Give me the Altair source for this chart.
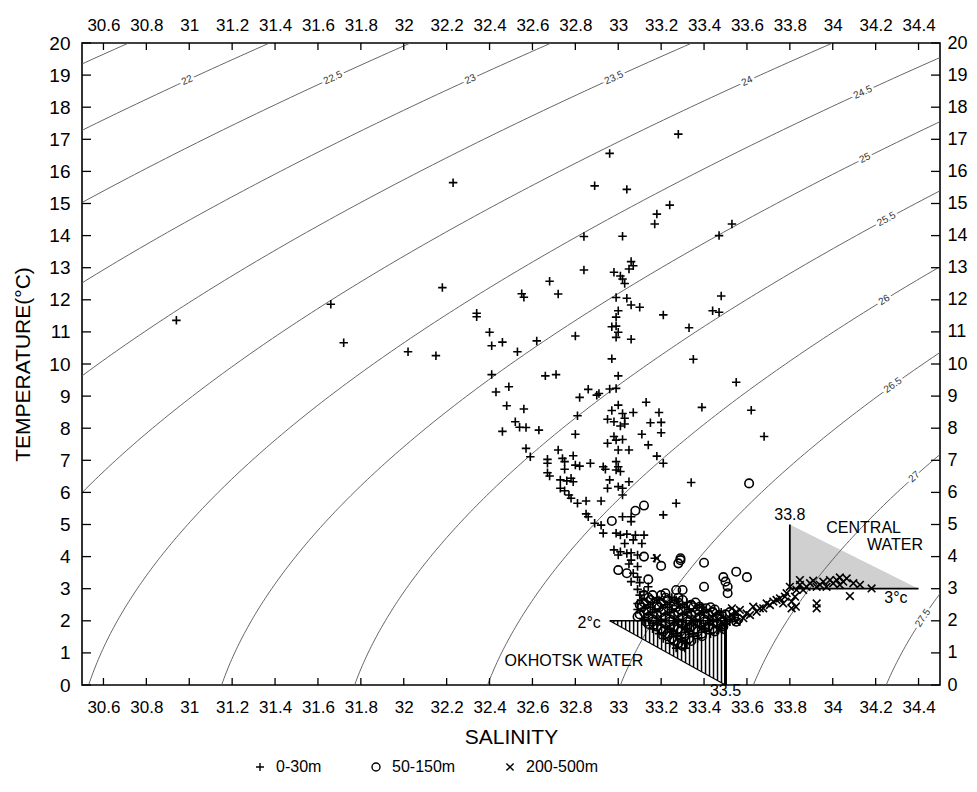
import altair as alt
import numpy as np
import pandas as pd

FONT = "Liberation Sans, Arial, DejaVu Sans, sans-serif"

# ---------------- data ----------------
S_ticks = [30.6, 30.8, 31.0, 31.2, 31.4, 31.6, 31.8, 32.0, 32.2, 32.4,
           32.6, 32.8, 33.0, 33.2, 33.4, 33.6, 33.8, 34.0, 34.2, 34.4]
T_ticks = list(range(0, 21))

depth_classes = ["0-30m", "50-150m", "200-500m"]

# 0-30 m  (+)
plus_pts = [
    (32.23, 15.65), (30.94, 11.36), (31.66, 11.86), (31.72, 10.66), (32.18, 12.38),
    (32.02, 10.38), (32.15, 10.26), (32.34, 11.58), (32.34, 11.47),
    (33.28, 17.16), (32.96, 16.56), (32.89, 15.55), (33.04, 15.44), (33.24, 14.95),
    (33.18, 14.67), (33.17, 14.36), (33.53, 14.36), (33.47, 14.00), (32.84, 13.97),
    (33.02, 13.98), (32.84, 12.93), (33.06, 13.19), (33.07, 13.06), (33.05, 12.96),
    (32.98, 12.86), (33.01, 12.74), (33.02, 12.65), (33.03, 12.51), (32.68, 12.58),
    (32.55, 12.19), (32.56, 12.08), (32.72, 12.18), (33.48, 12.12), (33.44, 11.66),
    (33.47, 11.61), (32.99, 12.07), (33.04, 12.05), (33.06, 11.84), (33.10, 11.77),
    (33.00, 11.66), (32.99, 11.46), (33.21, 11.53), (32.40, 10.99), (32.41, 10.57),
    (32.46, 10.68), (32.53, 10.38), (32.62, 10.72), (32.80, 10.87), (32.97, 11.16),
    (32.99, 11.18), (33.00, 10.99), (32.99, 10.83), (33.06, 10.77), (33.33, 11.13),
    (32.97, 10.16), (33.35, 10.15), (32.41, 9.67), (32.66, 9.63), (32.71, 9.67),
    (33.00, 9.63),
    (32.43, 9.13), (32.49, 9.29), (32.48, 8.70), (32.56, 8.60), (32.46, 7.90),
    (32.52, 8.20), (32.54, 8.03), (32.57, 8.02), (32.63, 7.94), (32.57, 7.37),
    (32.59, 7.11), (32.82, 8.96), (32.86, 9.21), (32.90, 9.03), (32.91, 9.08),
    (32.96, 9.22), (32.99, 9.24), (32.81, 8.39), (32.80, 7.81),
    (33.00, 8.72), (32.97, 8.55), (33.02, 8.46), (33.07, 8.49), (32.95, 8.28),
    (32.98, 8.20), (33.03, 8.31), (33.01, 8.07), (33.03, 8.13), (32.98, 7.74),
    (32.99, 7.63), (33.02, 7.65), (32.95, 7.53), (33.00, 7.32), (33.05, 7.32),
    (32.72, 7.32), (32.79, 7.14), (32.74, 7.06), (32.75, 6.96), (32.67, 7.03),
    (32.67, 6.91), (32.80, 6.85), (32.82, 6.82), (32.87, 6.91), (32.93, 6.80),
    (32.94, 6.72), (32.99, 6.96), (33.00, 6.80), (33.01, 6.65), (32.99, 6.70),
    (32.75, 6.72), (32.67, 6.61), (32.68, 6.51), (32.73, 6.39), (32.76, 6.36),
    (32.78, 6.44), (32.79, 6.33), (32.73, 6.13), (32.75, 6.05), (32.77, 5.92),
    (32.78, 5.82), (32.81, 5.66), (32.85, 5.73), (32.92, 5.73), (32.96, 6.39),
    (32.95, 6.13), (33.00, 6.18), (33.02, 6.13), (33.02, 5.92), (33.05, 6.33),
    (32.85, 5.33), (32.86, 5.24), (32.89, 5.04), (32.92, 4.98), (32.93, 4.73),
    (33.02, 5.24), (33.06, 5.24), (33.06, 5.09), (32.99, 4.73), (33.01, 4.67),
    (33.04, 4.70), (33.07, 4.52), (33.03, 4.41), (32.98, 4.21), (33.01, 4.15),
    (33.04, 4.10), (33.06, 4.12), (33.09, 4.05),
    (33.55, 9.43), (33.39, 8.65), (33.62, 8.56), (33.68, 7.74), (33.13, 8.81),
    (33.19, 8.49), (33.15, 8.17), (33.20, 8.18), (33.11, 7.81), (33.20, 7.86),
    (33.14, 7.48), (33.18, 7.13), (33.21, 6.91), (33.34, 6.31), (33.27, 5.66),
    (33.21, 5.30), (33.08, 4.67), (33.12, 4.67), (33.11, 4.41), (33.17, 3.95),
    (33.00, 4.05), (33.06, 3.89), (33.05, 3.77), (33.09, 3.69), (33.07, 3.48),
    (33.09, 3.36), (33.06, 3.22), (33.10, 3.19), (33.09, 2.98), (33.10, 2.80),
    (33.09, 2.54), (33.12, 2.39), (33.14, 3.06), (33.12, 2.91),
]
# 0-30 m, dense core around 33.1-33.5 / 1-3 C
plus_core = [
    (33.11, 2.65), (33.19, 2.65), (33.27, 2.65),
    (33.14, 2.50), (33.22, 2.50), (33.30, 2.50), (33.38, 2.50),
    (33.09, 2.35), (33.17, 2.35), (33.25, 2.35), (33.33, 2.35), (33.41, 2.35),
    (33.14, 2.20), (33.22, 2.20), (33.30, 2.20), (33.38, 2.20), (33.46, 2.20), (33.54, 2.20),
    (33.12, 2.05), (33.20, 2.05), (33.28, 2.05), (33.36, 2.05), (33.44, 2.05), (33.52, 2.05),
    (33.18, 1.90), (33.26, 1.90), (33.34, 1.90), (33.42, 1.90), (33.50, 1.90),
    (33.16, 1.75), (33.24, 1.75), (33.32, 1.75), (33.40, 1.75), (33.48, 1.75),
    (33.19, 1.60), (33.27, 1.60), (33.35, 1.60), (33.43, 1.60),
    (33.21, 1.45), (33.29, 1.45), (33.37, 1.45),
    (33.24, 1.30), (33.32, 1.30), (33.27, 1.15), (33.31, 1.15),
    (33.18, 2.72), (33.25, 2.72),
    (33.16, 2.57), (33.24, 2.57), (33.32, 2.57),
    (33.15, 2.42), (33.23, 2.42), (33.31, 2.42), (33.39, 2.42),
    (33.16, 2.27), (33.24, 2.27), (33.32, 2.27), (33.40, 2.27), (33.48, 2.27),
    (33.18, 2.12), (33.26, 2.12), (33.34, 2.12), (33.42, 2.12), (33.50, 2.12),
    (33.20, 1.97), (33.28, 1.97), (33.36, 1.97), (33.44, 1.97), (33.52, 1.97),
    (33.22, 1.82), (33.30, 1.82), (33.38, 1.82), (33.46, 1.82),
    (33.25, 1.67), (33.33, 1.67), (33.41, 1.67),
    (33.27, 1.52), (33.35, 1.52), (33.30, 1.37),
]

# 50-150 m  (o)
circ_pts = [
    (32.97, 5.11), (33.08, 5.43), (33.12, 5.59), (33.61, 6.28), (33.29, 3.95),
    (33.00, 3.58), (33.04, 3.48), (33.12, 4.00), (33.14, 3.29), (33.20, 3.71),
    (33.28, 3.79), (33.29, 3.89), (33.40, 3.81), (33.40, 3.06), (33.49, 3.36),
    (33.50, 3.22), (33.51, 3.06), (33.51, 2.86), (33.55, 3.53), (33.60, 3.36),
    (33.22, 2.86), (33.27, 2.96), (33.30, 2.96), (33.26, 2.60), (33.34, 2.49),
    (33.38, 2.44), (33.41, 2.39), (33.44, 2.28), (33.47, 2.18), (33.09, 2.13),
    (33.13, 1.97), (33.18, 2.44),
]
circ_core = [
    (33.12, 2.80), (33.16, 2.80), (33.20, 2.80),
    (33.15, 2.65), (33.23, 2.65), (33.30, 2.65),
    (33.10, 2.50), (33.18, 2.50), (33.26, 2.50), (33.34, 2.50),
    (33.13, 2.35), (33.21, 2.35), (33.29, 2.35), (33.37, 2.35), (33.45, 2.35),
    (33.10, 2.20), (33.18, 2.20), (33.26, 2.20), (33.34, 2.20), (33.42, 2.20), (33.50, 2.20),
    (33.16, 2.05), (33.24, 2.05), (33.32, 2.05), (33.40, 2.05), (33.48, 2.05), (33.56, 2.05),
    (33.14, 1.90), (33.22, 1.90), (33.30, 1.90), (33.38, 1.90), (33.46, 1.90),
    (33.20, 1.75), (33.28, 1.75), (33.36, 1.75), (33.44, 1.75),
    (33.23, 1.60), (33.31, 1.60), (33.39, 1.60),
    (33.25, 1.45), (33.33, 1.45), (33.28, 1.30),
    (33.14, 2.72), (33.22, 2.72), (33.28, 2.72),
    (33.12, 2.57), (33.20, 2.57), (33.28, 2.57), (33.36, 2.57),
    (33.11, 2.42), (33.19, 2.42), (33.27, 2.42), (33.35, 2.42), (33.43, 2.42),
    (33.12, 2.27), (33.20, 2.27), (33.28, 2.27), (33.36, 2.27), (33.44, 2.27), (33.52, 2.27),
    (33.14, 2.12), (33.22, 2.12), (33.30, 2.12), (33.38, 2.12), (33.46, 2.12), (33.54, 2.12),
    (33.16, 1.97), (33.24, 1.97), (33.32, 1.97), (33.40, 1.97), (33.48, 1.97), (33.55, 1.97),
    (33.18, 1.82), (33.26, 1.82), (33.34, 1.82), (33.42, 1.82), (33.49, 1.82),
    (33.21, 1.67), (33.29, 1.67), (33.37, 1.67), (33.45, 1.67),
    (33.23, 1.52), (33.31, 1.52), (33.39, 1.52),
    (33.26, 1.37), (33.34, 1.37), (33.30, 1.22),
]

# 200-500 m  (x)
x_pts = [
    (33.18, 3.95), (33.53, 2.39), (33.55, 2.28),
    (33.505, 1.97), (33.536, 2.13), (33.567, 2.34), (33.598, 2.23), (33.629, 2.44),
    (33.660, 2.39), (33.692, 2.54), (33.723, 2.60), (33.754, 2.70), (33.777, 2.75),
    (33.808, 2.60), (33.824, 2.75), (33.808, 2.39), (33.800, 3.06), (33.831, 2.96),
    (33.862, 2.96), (33.894, 3.17), (33.925, 3.06), (33.956, 3.22), (33.987, 3.27),
    (34.018, 3.27), (34.049, 3.22), (34.065, 3.32), (34.096, 3.17), (34.127, 3.12),
    (34.181, 3.01), (33.925, 2.54), (33.925, 2.39), (34.080, 2.77), (33.828, 2.44),
    (33.474, 1.71), (33.490, 1.92), (33.552, 1.97), (33.583, 2.08), (33.614, 2.18),
    (33.645, 2.28), (33.676, 2.39), (33.707, 2.49), (33.738, 2.65), (33.769, 2.54),
    (33.785, 2.86), (33.847, 3.12), (33.878, 3.06), (33.940, 3.12), (33.971, 3.06),
    (34.002, 3.17), (34.033, 3.12), (33.847, 3.27), (33.909, 3.25), (34.033, 3.35),
]

# isopycnal levels (sigma-t) and where their labels sit (salinity)
sigma_levels = [21.5, 22.0, 22.5, 23.0, 23.5, 24.0, 24.5, 25.0, 25.5, 26.0, 26.5, 27.0, 27.5]
label_levels = [22.0, 22.5, 23.0, 23.5, 24.0, 24.5, 25.0, 25.5, 26.0, 26.5, 27.0, 27.5]
label_texts = ["22", "22.5", "23", "23.5", "24", "24.5", "25", "25.5", "26", "26.5", "27", "27.5"]
label_S = [30.99, 31.67, 32.31, 32.98, 33.60, 34.14, 34.15, 34.25, 34.24, 34.28, 34.38, 34.42]

# water-mass triangles
okh_S = [32.96, 33.5, 33.5]
okh_T = [2.0, 2.0, 0.0]
cen_S = [33.8, 33.8, 34.4]
cen_T = [5.0, 3.0, 3.0]

# annotations
ann_left_txt = ["2°c", "OKHOTSK WATER", "CENTRAL", "WATER", "3°c"]
ann_left_S = [32.81, 32.47, 33.97, 34.16, 34.24]
ann_left_T = [1.93, 0.75, 4.89, 4.36, 2.71]
ann_mid_txt = ["33.5", "33.8"]
ann_mid_S = [33.5, 33.8]
ann_mid_T = [-0.19, 5.30]

# ---------------- layout ----------------
W, H = 858, 642
S_MIN, S_MAX, T_MIN, T_MAX = 30.5, 34.5, 0.0, 20.0
PX_S = W / (S_MAX - S_MIN)
PX_T = H / (T_MAX - T_MIN)

xs = alt.Scale(domain=[S_MIN, S_MAX], nice=False, zero=False)
ys = alt.Scale(domain=[T_MIN, T_MAX], nice=False, zero=False)


# ---------------- sigma-t (UNESCO 1980, p = 0) ----------------
def sigma_t(S, T):
    rw = (999.842594 + 6.793952e-2 * T - 9.095290e-3 * T ** 2 + 1.001685e-4 * T ** 3
          - 1.120083e-6 * T ** 4 + 6.536332e-9 * T ** 5)
    A = 8.24493e-1 - 4.0899e-3 * T + 7.6438e-5 * T ** 2 - 8.2467e-7 * T ** 3 + 5.3875e-9 * T ** 4
    B = -5.72466e-3 + 1.0227e-4 * T - 1.6546e-6 * T ** 2
    C = 4.8314e-4
    return rw + A * S + B * S ** 1.5 + C * S ** 2 - 1000.0


def salinity_on(sig, T):
    T = np.asarray(T, dtype=float)
    lo = np.full_like(T, 20.0)
    hi = np.full_like(T, 40.0)
    for _ in range(60):
        mid = (lo + hi) / 2
        f = sigma_t(mid, T) - sig
        lo = np.where(f < 0, mid, lo)
        hi = np.where(f >= 0, mid, hi)
    return (lo + hi) / 2


T_grid = np.linspace(T_MIN, T_MAX, 201)
iso_rows = []
for sg in sigma_levels:
    Sg = salinity_on(sg, T_grid)
    for i, (s, t) in enumerate(zip(Sg, T_grid)):
        iso_rows.append({"sigma": sg, "S": s, "T": t, "o": i})
iso_df = pd.DataFrame(iso_rows)

lab_rows = []
for sg, txt, sl in zip(label_levels, label_texts, label_S):
    Sg = salinity_on(sg, T_grid)
    tl = float(np.interp(sl, Sg, T_grid))
    s1 = salinity_on(sg, [tl + 0.2])[0]
    s0 = salinity_on(sg, [tl - 0.2])[0]
    ang = np.degrees(np.arctan2(-0.4 * PX_T, (s1 - s0) * PX_S)) % 360
    lab_rows.append({"S": sl, "T": tl, "txt": txt, "ang": ang})
lab_df = pd.DataFrame(lab_rows)

# hatching of the Okhotsk-water triangle
hatch_S = np.linspace(okh_S[0], okh_S[1], 30)
hatch_df = pd.DataFrame({
    "S": hatch_S,
    "T1": okh_T[0] * (okh_S[1] - hatch_S) / (okh_S[1] - okh_S[0]),
    "T2": np.full_like(hatch_S, okh_T[0]),
})

pts_df = pd.concat([
    pd.DataFrame(plus_pts + plus_core, columns=["S", "T"]).assign(depth=depth_classes[0]),
    pd.DataFrame(circ_pts + circ_core, columns=["S", "T"]).assign(depth=depth_classes[1]),
    pd.DataFrame(x_pts, columns=["S", "T"]).assign(depth=depth_classes[2]),
], ignore_index=True)

# ---------------- layers ----------------
X_none = lambda f="S": alt.X(f"{f}:Q", scale=xs, axis=None)
Y_none = lambda f="T": alt.Y(f"{f}:Q", scale=ys, axis=None)

central = alt.Chart(pd.DataFrame({"S": [cen_S[0], cen_S[2]], "T": [cen_T[0], cen_T[2]]})).mark_area(
    color="#d0d0d0", opacity=1
).encode(x=X_none(), y=Y_none(), y2=alt.Y2(datum=cen_T[1]))

iso = alt.Chart(iso_df).mark_line(color="#555555", strokeWidth=0.9, clip=True).encode(
    x=alt.X("S:Q", scale=xs, axis=alt.Axis(
        orient="bottom", values=S_ticks, format="~g", title="SALINITY",
        labelFontSize=17, labelPadding=14, titleFontSize=21, titlePadding=11,
        labelOverlap=False, labelFlush=False)),
    y=alt.Y("T:Q", scale=ys, axis=alt.Axis(
        orient="left", values=T_ticks, format="d", title="TEMPERATURE(°C)",
        labelFontSize=19, labelPadding=12, titleFontSize=21, titlePadding=15,
        labelOverlap=False, labelFlush=False)),
    detail="sigma:N",
    order="o:Q",
)

lab_halo = alt.Chart(lab_df).mark_text(
    font=FONT, fontSize=10, color="white", stroke="white", strokeWidth=5
).encode(x=X_none(), y=Y_none(), text="txt:N", angle=alt.Angle("ang:Q", scale=None))
lab_txt = alt.Chart(lab_df).mark_text(
    font=FONT, fontSize=10, color="#333333"
).encode(x=X_none(), y=Y_none(), text="txt:N", angle=alt.Angle("ang:Q", scale=None))

hatch = alt.Chart(hatch_df).mark_rule(color="black", strokeWidth=1.5).encode(
    x=X_none(), y=Y_none("T1"), y2="T2:Q")

okh_h = alt.Chart(pd.DataFrame({"S": [okh_S[0]], "S2": [okh_S[1]], "T": [okh_T[0]]})).mark_rule(
    color="black", strokeWidth=1.6).encode(x=X_none(), x2="S2:Q", y=Y_none())
okh_v = alt.Chart(pd.DataFrame({"S": [okh_S[1]], "T": [okh_T[2]], "T2": [okh_T[1]]})).mark_rule(
    color="black", strokeWidth=3).encode(x=X_none(), y=Y_none(), y2="T2:Q")
okh_d = alt.Chart(pd.DataFrame({"S": [okh_S[0], okh_S[2]], "T": [okh_T[0], okh_T[2]]})).mark_line(
    color="black", strokeWidth=1.2).encode(x=X_none(), y=Y_none())
cen_v = alt.Chart(pd.DataFrame({"S": [cen_S[0]], "T": [cen_T[1]], "T2": [cen_T[0]]})).mark_rule(
    color="black", strokeWidth=1.8).encode(x=X_none(), y=Y_none(), y2="T2:Q")
cen_h = alt.Chart(pd.DataFrame({"S": [cen_S[1]], "S2": [cen_S[2]], "T": [cen_T[1]]})).mark_rule(
    color="black", strokeWidth=1.8).encode(x=X_none(), x2="S2:Q", y=Y_none())

PLUS = "M-1,0L1,0M0,-1L0,1"
XMARK = "M-0.9,-0.9L0.9,0.9M-0.9,0.9L0.9,-0.9"
points = alt.Chart(pts_df).mark_point(
    filled=False, color="black", strokeWidth=1.6, size=72, opacity=1
).encode(
    x=X_none(), y=Y_none(),
    shape=alt.Shape("depth:N", scale=alt.Scale(domain=depth_classes, range=[PLUS, "circle", XMARK]),
                    legend=alt.Legend(
                        title=None, orient="none", legendX=170, legendY=716,
                        direction="horizontal", columns=3, labelFont=FONT, labelFontSize=16,
                        labelColor="black", symbolSize=64, symbolStrokeWidth=1.4,
                        symbolStrokeColor="black", symbolFillColor="transparent",
                        columnPadding=46, labelOffset=8, padding=0)),
)

ann_left = alt.Chart(pd.DataFrame({"S": ann_left_S, "T": ann_left_T, "txt": ann_left_txt})).mark_text(
    font=FONT, fontSize=16, align="left", baseline="middle", color="black"
).encode(x=X_none(), y=Y_none(), text="txt:N")
ann_mid = alt.Chart(pd.DataFrame({"S": ann_mid_S, "T": ann_mid_T, "txt": ann_mid_txt})).mark_text(
    font=FONT, fontSize=16, align="center", baseline="middle", color="black"
).encode(x=X_none(), y=Y_none(), text="txt:N")

# tick marks pointing into the frame, and the top / right axes
sdf = pd.DataFrame({"S": S_ticks})
tdf = pd.DataFrame({"T": T_ticks})
tick_top = alt.Chart(sdf).mark_rule(color="black", strokeWidth=1.3).encode(
    x=X_none(), y=alt.value(0), y2=alt.value(7))
tick_bot = alt.Chart(sdf).mark_rule(color="black", strokeWidth=1.3).encode(
    x=X_none(), y=alt.value(H), y2=alt.value(H - 7))
tick_left = alt.Chart(tdf).mark_rule(color="black", strokeWidth=1.3).encode(
    y=Y_none(), x=alt.value(0), x2=alt.value(9))
tick_right = alt.Chart(tdf).mark_rule(color="black", strokeWidth=1.3).encode(
    y=Y_none(), x=alt.value(W), x2=alt.value(W - 9))

second_axes = alt.Chart(pd.DataFrame({"S": [S_MIN, S_MAX], "T": [T_MIN, T_MAX]})).mark_point(opacity=0).encode(
    x=alt.X("S:Q", scale=xs, axis=alt.Axis(
        orient="top", values=S_ticks, format="~g", title=None, labelFontSize=17,
        labelPadding=9, labelOverlap=False, labelFlush=False)),
    y=alt.Y("T:Q", scale=ys, axis=alt.Axis(
        orient="right", values=T_ticks, format="d", title=None, labelFontSize=18,
        labelPadding=7, labelOverlap=False, labelFlush=False)),
)

chart = alt.layer(
    central, iso, lab_halo, lab_txt, hatch, okh_h, okh_v, okh_d, cen_v, cen_h,
    points, ann_left, ann_mid, tick_top, tick_bot, tick_left, tick_right, second_axes,
).resolve_axis(x="independent", y="independent").properties(
    width=W, height=H,
    autosize=alt.AutoSizeParams(type="none"),
    padding={"left": 74, "top": 35, "right": 29, "bottom": 97},
    background="white",
).configure_view(
    stroke="black", strokeWidth=1.6
).configure_axis(
    domain=False, ticks=False, grid=False,
    labelFont=FONT, titleFont=FONT, labelColor="black", titleColor="black",
    titleFontWeight="normal",
)

chart.save("out.html", embed_options={"renderer": "svg", "actions": False})
